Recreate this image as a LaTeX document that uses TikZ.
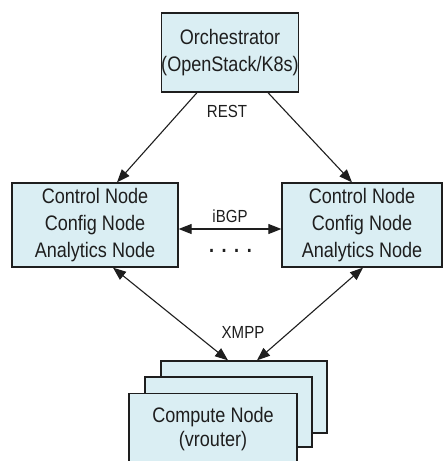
\documentclass[tikz,border=0pt]{standalone}
\usepackage{fontspec}
\setmainfont{Liberation Sans}[FakeStretch=0.86]
\usetikzlibrary{positioning,arrows.meta,calc}
\definecolor{boxfill}{HTML}{DAEEF3}
\definecolor{inkgray}{HTML}{1E1E1E}

\begin{document}
\begin{tikzpicture}[x=1pt,y=-1pt,
  every node/.style={font=\fontsize{21}{27}\selectfont,text=inkgray},
  box/.style={draw=inkgray,line width=1.3pt,fill=boxfill,align=center,inner sep=0pt},
  lbl/.style={font=\fontsize{17.5}{20}\selectfont},
  link/.style={draw=inkgray,line width=1.1pt,-{Triangle[length=13pt,width=10pt]}},
  both/.style={link,{Triangle[length=13pt,width=10pt]}-{Triangle[length=13pt,width=10pt]}}]
\clip (0,0) rectangle (443,461);
\fill[white] (0,0) rectangle (443,461);
% boxes
\node[box,minimum width=136pt,minimum height=79pt] (orch) at (230,52.5) {Orchestrator\\(OpenStack/K8s)};
\node[box,minimum width=166pt,minimum height=84pt] (ctlL) at (95,225) {Control Node\\Config Node\\Analytics Node};
\node[box,minimum width=160pt,minimum height=84pt] (ctlR) at (362,225) {Control Node\\Config Node\\Analytics Node};
\node[box,minimum width=166pt,minimum height=72pt] (cmpA) at (244,397) {};
\node[box,minimum width=167pt,minimum height=70pt] (cmpB) at (228.5,412) {};
\node[box,minimum width=168pt,minimum height=80pt,anchor=north] (cmpC) at (213,393) {};
\node (cmptxt) at (213,429) [align=center,font=\fontsize{21}{24}\selectfont] {Compute Node\\(vrouter)};
% labels
\node[lbl] (rest) at (227,111) {REST};
\node[lbl] (ibgp) at (230,216) {iBGP};
\node[lbl] (xmpp) at (243,332) {XMPP};
\node[font=\fontsize{21}{21}\bfseries] (dots) at (230.5,251) {.\hspace{7.5pt}.\hspace{7.5pt}.\hspace{7.5pt}.};
% connectors
\draw[link] ([xshift=-33pt]orch.south) -- ([xshift=22pt]ctlL.north);
\draw[link] ([xshift=38pt]orch.south) -- ([xshift=-10pt]ctlR.north);
\draw[both] ([yshift=-4pt]ctlL.east) -- ([yshift=-4pt]ctlR.west);
\draw[both] ([xshift=18pt]ctlL.south) -- ([xshift=-16pt]cmpA.north);
\draw[both] ([xshift=1pt]ctlR.south) -- ([xshift=13pt]cmpA.north);
\end{tikzpicture}
\end{document}
